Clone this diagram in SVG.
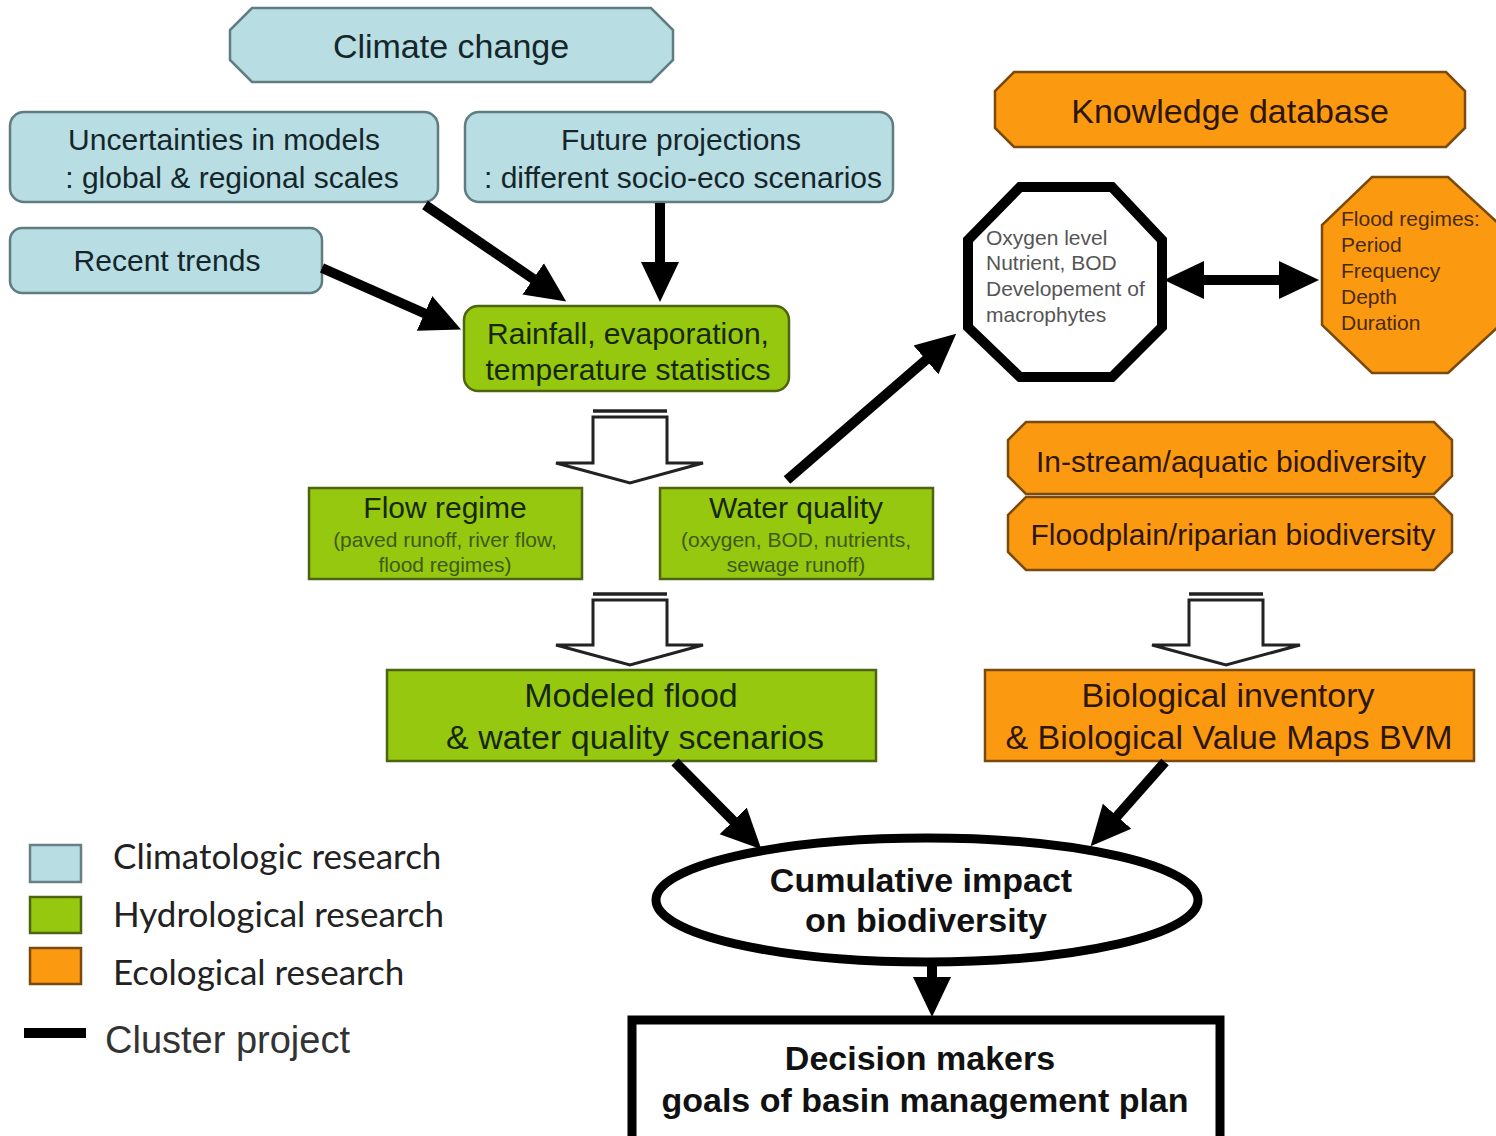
<svg xmlns="http://www.w3.org/2000/svg" width="1496" height="1136" viewBox="0 0 1496 1136">
  <defs>
    <marker id="head" viewBox="0 0 40 40" markerWidth="40" markerHeight="40" markerUnits="userSpaceOnUse" refX="1" refY="20" orient="auto-start-reverse">
      <path d="M0,1 L40,20 L0,39 Z" fill="#000"/>
    </marker>
    <style>
      .t { font-family: "Liberation Sans", Arial, sans-serif; text-anchor: middle; }
      .clim { fill: #b8dde3; stroke: #5f7d80; stroke-width: 2.5; }
      .hydro { fill: #95c80f; stroke: #4d6510; stroke-width: 2.5; }
      .eco { fill: #fb9a10; stroke: #7a4a0c; stroke-width: 2.5; }
      .tc { fill: #15262a; }
      .th { fill: #17280a; }
      .te { fill: #2e1606; }
      .sub { fill: #3f5a18; }
      .arrow { stroke: #000; stroke-width: 10; fill: none; marker-end: url(#head); }
      .hollow { fill: #fff; stroke: #222; stroke-width: 3; stroke-linejoin: miter; }
      .legend { font-family: Lato, "Open Sans", sans-serif; fill: #222; font-size: 35px; }
    </style>
  </defs>

  <rect width="1496" height="1136" fill="#fff"/>

  <!-- climatologic inputs -->
  <g id="climate-change">
    <polygon class="clim" points="252,8 651,8 673,30 673,60 651,82 252,82 230,60 230,30"/>
    <text class="t tc" x="451" y="58" font-size="34">Climate change</text>
  </g>
  <g id="uncertainties">
    <rect class="clim" x="10" y="112" width="428" height="90" rx="14"/>
    <text class="t tc" x="224" y="150" font-size="30">Uncertainties in models</text>
    <text class="t tc" x="232" y="188" font-size="30">: global &amp; regional scales</text>
  </g>
  <g id="future-projections">
    <rect class="clim" x="465" y="112" width="428" height="90" rx="14"/>
    <text class="t tc" x="681" y="150" font-size="30">Future projections</text>
    <text class="t tc" x="683" y="188" font-size="30">: different socio-eco scenarios</text>
  </g>
  <g id="recent-trends">
    <rect class="clim" x="10" y="228" width="312" height="65" rx="12"/>
    <text class="t tc" x="167" y="271" font-size="30">Recent trends</text>
  </g>

  <!-- hydrological chain -->
  <g id="rainfall">
    <rect class="hydro" x="464" y="306" width="325" height="85" rx="14"/>
    <text class="t th" x="628" y="344" font-size="30">Rainfall, evaporation,</text>
    <text class="t th" x="628" y="380" font-size="30">temperature statistics</text>
  </g>
  <g id="flow-regime">
    <rect class="hydro" x="309" y="488" width="273" height="91"/>
    <text class="t th" x="445" y="518" font-size="30">Flow regime</text>
    <text class="t sub" x="445" y="547" font-size="21">(paved runoff, river flow,</text>
    <text class="t sub" x="445" y="572" font-size="21">flood regimes)</text>
  </g>
  <g id="water-quality">
    <rect class="hydro" x="660" y="488" width="273" height="91"/>
    <text class="t th" x="796" y="518" font-size="30">Water quality</text>
    <text class="t sub" x="796" y="547" font-size="21">(oxygen, BOD, nutrients,</text>
    <text class="t sub" x="796" y="572" font-size="21">sewage runoff)</text>
  </g>
  <g id="modeled-scenarios">
    <rect class="hydro" x="387" y="670" width="489" height="91"/>
    <text class="t th" x="631" y="707" font-size="34">Modeled flood</text>
    <text class="t th" x="635" y="749" font-size="34">&amp; water quality scenarios</text>
  </g>

  <!-- ecological chain -->
  <g id="knowledge-database">
    <polygon class="eco" points="1014,72 1446,72 1465,91 1465,128 1446,147 1014,147 995,128 995,91"/>
    <text class="t te" x="1230" y="123" font-size="34">Knowledge database</text>
  </g>
  <g id="water-parameters">
    <polygon points="1020,187 1112,187 1162,240 1162,327 1112,377 1020,377 968,327 968,240" fill="#fff" stroke="#000" stroke-width="10" stroke-linejoin="miter"/>
    <g font-family="Liberation Sans, Arial, sans-serif" font-size="21" fill="#555">
      <text x="986" y="245">Oxygen level</text>
      <text x="986" y="270">Nutrient, BOD</text>
      <text x="986" y="296">Developement of</text>
      <text x="986" y="322">macrophytes</text>
    </g>
  </g>
  <g id="flood-regimes">
    <polygon class="eco" points="1372,177 1448,177 1500,225 1500,325 1448,373 1372,373 1322,325 1322,225"/>
    <g font-family="Liberation Sans, Arial, sans-serif" font-size="21" fill="#4a2a08">
      <text x="1341" y="226">Flood regimes:</text>
      <text x="1341" y="252">Period</text>
      <text x="1341" y="278">Frequency</text>
      <text x="1341" y="304">Depth</text>
      <text x="1341" y="330">Duration</text>
    </g>
  </g>
  <g id="instream-biodiversity">
    <polygon class="eco" points="1026,422 1434,422 1452,440 1452,476 1434,494 1026,494 1008,476 1008,440"/>
    <text class="t te" x="1231" y="472" font-size="30">In-stream/aquatic biodiversity</text>
  </g>
  <g id="floodplain-biodiversity">
    <polygon class="eco" points="1026,497 1434,497 1452,515 1452,552 1434,570 1026,570 1008,552 1008,515"/>
    <text class="t te" x="1233" y="545" font-size="30">Floodplain/riparian biodiversity</text>
  </g>
  <g id="biological-inventory">
    <rect class="eco" x="985" y="670" width="489" height="91"/>
    <text class="t te" x="1228" y="707" font-size="34">Biological inventory</text>
    <text class="t te" x="1229" y="749" font-size="34">&amp; Biological Value Maps BVM</text>
  </g>

  <!-- outcomes -->
  <g id="cumulative-impact">
    <ellipse cx="927" cy="900" rx="271" ry="62" fill="#fff" stroke="#000" stroke-width="9"/>
    <text class="t" x="921" y="892" font-size="34" font-weight="bold" fill="#111">Cumulative impact</text>
    <text class="t" x="926" y="932" font-size="34" font-weight="bold" fill="#111">on biodiversity</text>
  </g>
  <g id="decision-makers">
    <rect x="632" y="1020" width="588" height="124" fill="#fff" stroke="#000" stroke-width="9"/>
    <text class="t" x="920" y="1070" font-size="34" font-weight="bold" fill="#111">Decision makers</text>
    <text class="t" x="925" y="1112" font-size="34" font-weight="bold" fill="#111">goals of basin management plan</text>
  </g>

  <!-- connectors -->
  <g id="connectors">
    <line class="arrow" x1="425" y1="205" x2="534" y2="279.4"/>
    <line class="arrow" x1="660" y1="203" x2="660" y2="263"/>
    <line class="arrow" x1="322" y1="268" x2="425.4" y2="313.8"/>
    <line class="arrow" x1="787" y1="480" x2="926.7" y2="359.2"/>
    <line class="arrow" x1="1203" y1="280" x2="1280" y2="280" marker-start="url(#head)"/>
    <line class="arrow" x1="675" y1="762" x2="733.9" y2="821.6"/>
    <line class="arrow" x1="1165" y1="762" x2="1116.4" y2="817"/>
    <line class="arrow" x1="932" y1="964" x2="932" y2="978"/>

    <!-- hollow block arrows -->
    <g>
      <line x1="593" y1="411" x2="667" y2="411" stroke="#222" stroke-width="3.5"/>
      <path class="hollow" d="M593,417 L667,417 L667,463 L703,463 L630,483 L556,463 L593,463 Z"/>
    </g>
    <g>
      <line x1="593" y1="594" x2="667" y2="594" stroke="#222" stroke-width="3.5"/>
      <path class="hollow" d="M593,600 L667,600 L667,645 L703,645 L630,665 L556,645 L593,645 Z"/>
    </g>
    <g>
      <line x1="1189" y1="594" x2="1263" y2="594" stroke="#222" stroke-width="3.5"/>
      <path class="hollow" d="M1189,600 L1263,600 L1263,645 L1300,645 L1226,665 L1152,645 L1189,645 Z"/>
    </g>
  </g>

  <!-- legend -->
  <g id="legend">
    <rect x="30" y="845" width="51" height="37" fill="#b8dde3" stroke="#6a7f82" stroke-width="2.5"/>
    <rect x="30" y="897" width="51" height="36" fill="#95c80f" stroke="#4d6510" stroke-width="2.5"/>
    <rect x="30" y="948" width="51" height="36" fill="#fb9a10" stroke="#7a4a0c" stroke-width="2.5"/>
    <text class="legend" x="113" y="869">Climatologic research</text>
    <text class="legend" x="113" y="927">Hydrological research</text>
    <text class="legend" x="113" y="985">Ecological research</text>
    <line x1="24" y1="1033" x2="86" y2="1033" stroke="#000" stroke-width="10"/>
    <text x="105" y="1053" font-family="Liberation Sans, Arial, sans-serif" font-size="38" fill="#333">Cluster project</text>
  </g>
</svg>
